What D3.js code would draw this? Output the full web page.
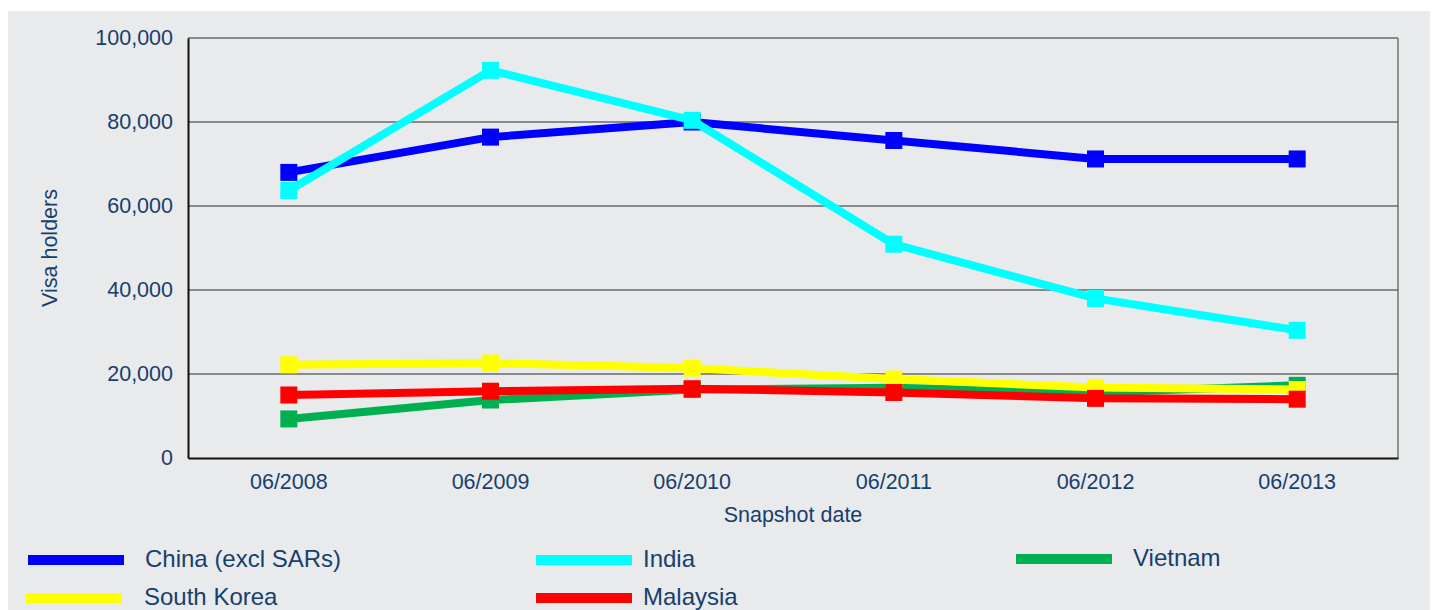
<!DOCTYPE html>
<html>
<head>
<meta charset="utf-8">
<script src="https://cdn.jsdelivr.net/npm/d3@7"></script>
<style>
  body { margin: 0; background: #fff; }
  svg { display: block; font-family: "Liberation Sans", Arial, sans-serif; }
</style>
</head>
<body>
<div id="chart"></div>
<script>
//Datos del gráfico
const dates = ['06/2008', '06/2009', '06/2010', '06/2011', '06/2012', '06/2013'];
const china = [68000, 76400, 80000, 75600, 71200, 71200];
const india = [63700, 92300, 80400, 50900, 38000, 30400];
const vietnam = [9300, 13800, 16300, 16700, 15600, 17300];
const southKorea = [22200, 22600, 21400, 18800, 16800, 16300];
const malaysia = [15000, 15900, 16500, 15600, 14200, 14000];
const yTicks = [0, 20000, 40000, 60000, 80000, 100000];

//Orden de dibujo (el último queda encima)
const series = [
    { name: 'China (excl SARs)', values: china, color: '#0000FF' },
    { name: 'India', values: india, color: '#00FFFF' },
    { name: 'Vietnam', values: vietnam, color: '#00B050' },
    { name: 'South Korea', values: southKorea, color: '#FFFF00' },
    { name: 'Malaysia', values: malaysia, color: '#FF0000' }
];

const TEXT_COLOR = '#17406D';
const W = 1434, H = 610;
let margin = { top: 38, right: 36, bottom: 152, left: 188 };

let svg = d3.select('#chart')
    .append('svg')
    .attr('width', W)
    .attr('height', H);

//Fondo gris
svg.append('rect')
    .attr('x', 8).attr('y', 11)
    .attr('width', 1422).attr('height', H - 11)
    .attr('fill', '#E9EAEC');

let x = d3.scaleBand()
    .domain(dates)
    .range([margin.left, W - margin.right])
    .padding(0);

let y = d3.scaleLinear()
    .domain([0, 100000])
    .range([H - margin.bottom, margin.top]);

const cx = function(d) { return x(d) + x.bandwidth() / 2; };

//Líneas de la rejilla
svg.append('g')
    .selectAll('line')
    .data(yTicks.filter(function(t) { return t > 0; }))
    .enter()
    .append('line')
    .attr('x1', margin.left).attr('x2', W - margin.right)
    .attr('y1', function(d) { return y(d); })
    .attr('y2', function(d) { return y(d); })
    .attr('stroke', '#2a2a2a')
    .attr('stroke-width', 1);

//Marco del área
svg.append('line')
    .attr('x1', W - margin.right).attr('x2', W - margin.right)
    .attr('y1', y(100000)).attr('y2', y(0))
    .attr('stroke', '#555').attr('stroke-width', 1.2);

//Eje Y
let yAxis = svg.append('g')
    .attr('transform', 'translate(' + margin.left + ',0)')
    .call(d3.axisLeft(y).tickValues(yTicks).tickSize(0).tickPadding(15).tickFormat(d3.format(',')));
yAxis.select('.domain').attr('stroke', '#111').attr('stroke-width', 2);
yAxis.selectAll('text')
    .attr('fill', TEXT_COLOR)
    .style('font-size', '21.5px')
    .style('font-family', '"Liberation Sans", Arial, sans-serif');

//Eje X
let xAxis = svg.append('g')
    .attr('transform', 'translate(0,' + y(0) + ')')
    .call(d3.axisBottom(x).tickSize(0).tickPadding(16));
xAxis.select('.domain').attr('stroke', '#111').attr('stroke-width', 2);
xAxis.selectAll('text')
    .attr('fill', TEXT_COLOR)
    .style('font-size', '21.5px')
    .style('font-family', '"Liberation Sans", Arial, sans-serif');

//Títulos de ejes
svg.append('text')
    .attr('x', (margin.left + W - margin.right) / 2)
    .attr('y', 522)
    .attr('text-anchor', 'middle')
    .attr('fill', TEXT_COLOR)
    .style('font-size', '21.5px')
    .text('Snapshot date');

svg.append('text')
    .attr('transform', 'translate(57,' + 248 + ') rotate(-90)')
    .attr('text-anchor', 'middle')
    .attr('fill', TEXT_COLOR)
    .style('font-size', '21.5px')
    .text('Visa holders');

//Series
let line = d3.line()
    .x(function(d, i) { return cx(dates[i]); })
    .y(function(d) { return y(d); });

const MK = 17;
series.forEach(function(s) {
    let g = svg.append('g');
    g.append('path')
        .datum(s.values)
        .attr('d', line)
        .attr('fill', 'none')
        .attr('stroke', s.color)
        .attr('stroke-width', 8)
        .attr('stroke-linejoin', 'round');
    g.selectAll('rect')
        .data(s.values)
        .enter()
        .append('rect')
        .attr('x', function(d, i) { return cx(dates[i]) - MK / 2; })
        .attr('y', function(d) { return y(d) - MK / 2; })
        .attr('width', MK)
        .attr('height', MK)
        .attr('fill', s.color);
});

//Leyenda
const legendPos = [
    { name: 'China (excl SARs)', lx: 28, tx: 145, ly: 559 },
    { name: 'India', lx: 536, tx: 643, ly: 559 },
    { name: 'Vietnam', lx: 1016, tx: 1133, ly: 558 },
    { name: 'South Korea', lx: 26, tx: 144, ly: 597 },
    { name: 'Malaysia', lx: 536, tx: 643, ly: 597 }
];
let legend = svg.append('g');
legendPos.forEach(function(p) {
    let s = series.find(function(d) { return d.name === p.name; });
    legend.append('rect')
        .attr('x', p.lx).attr('y', p.ly - 4)
        .attr('width', 96).attr('height', 10)
        .attr('fill', s.color);
    legend.append('text')
        .attr('x', p.tx)
        .attr('y', p.ly)
        .attr('dy', '0.35em')
        .attr('fill', TEXT_COLOR)
        .style('font-size', '24px')
        .text(p.name);
});
</script>
</body>
</html>
